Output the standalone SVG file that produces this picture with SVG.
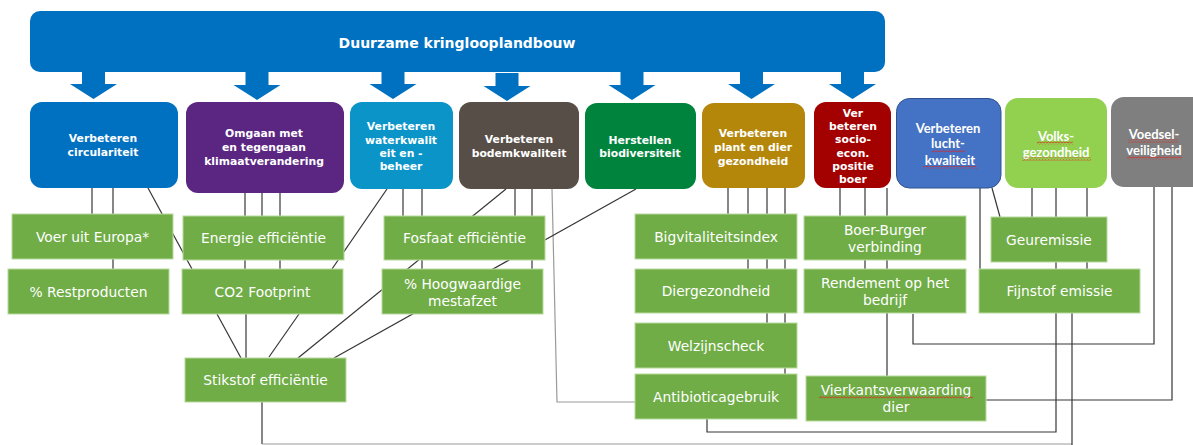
<svg xmlns="http://www.w3.org/2000/svg" xmlns:xlink="http://www.w3.org/1999/xlink" width="1193" height="445" viewBox="0 0 1193 445">
  <style>
    .cat { stroke: none; }
    .goal { font-family: "DejaVu Sans", Verdana, sans-serif; font-weight: bold; font-size: 10.8px; fill: #ffffff; text-anchor: middle; dominant-baseline: central; }
    .goal2 { font-family: Lato, "Liberation Sans", sans-serif; font-weight: bold; font-size: 13px; fill: #ffffff; text-anchor: middle; dominant-baseline: central; }
    .ind { fill: #70AD47; stroke: #B7DA9C; stroke-width: 1; }
    .indt { font-family: "DejaVu Sans", Verdana, sans-serif; font-size: 13.8px; fill: #ffffff; text-anchor: middle; dominant-baseline: central; }
    .ln { fill: none; stroke: #363636; stroke-width: 1.2; }
    .lnl { fill: none; stroke: #9a9a9a; stroke-width: 1.2; }
    .arrow { fill: #0070C0; }
  </style>
  <defs>
    <path id="arrow" d="M-11.5,0 V13 H-23.5 L0,28 L23.5,13 H11.5 V0 Z"/>
    <pattern id="squiggle" width="3" height="3" patternUnits="userSpaceOnUse">
      <path d="M0,2.4 L1.5,0.6 L3,2.4" fill="none" stroke="#E0241B" stroke-width="0.8"/>
    </pattern>
  </defs>

  <rect width="1193" height="445" fill="#ffffff"/>

  <!-- top banner with arrows to each goal -->
  <g id="banner">
    <rect x="30" y="11" width="855" height="61" rx="10" fill="#0070C0"/>
    <text x="457" y="43" font-family="DejaVu Sans, Verdana, sans-serif" font-weight="bold" font-size="14" fill="#ffffff" text-anchor="middle" dominant-baseline="central">Duurzame kringlooplandbouw</text>
    <g class="arrow">
      <use xlink:href="#arrow" x="93.5" y="71"/>
      <use xlink:href="#arrow" x="257" y="72"/>
      <use xlink:href="#arrow" x="393" y="71"/>
      <use xlink:href="#arrow" x="507" y="73"/>
      <use xlink:href="#arrow" x="632" y="72"/>
      <use xlink:href="#arrow" x="751.5" y="71"/>
      <use xlink:href="#arrow" x="852.5" y="71"/>
    </g>
  </g>

  <!-- connectors between goals and indicators -->
  <g id="connectors">
    <path class="ln" d="M92,188 V214"/>
    <path class="ln" d="M113,188 V269"/>
    <path class="ln" d="M148,188 L192,269"/>
    <path class="ln" d="M245,193 V269"/>
    <path class="ln" d="M262,193 V216"/>
    <path class="ln" d="M280,193 V269"/>
    <path class="ln" d="M387,189 L332,269"/>
    <path class="ln" d="M403,189 V216"/>
    <path class="ln" d="M422,189 V269"/>
    <path class="ln" d="M506,189 L298,358"/>
    <path class="ln" d="M515,189 V216"/>
    <path class="ln" d="M532,189 V269"/>
    <path class="lnl" d="M552,189 L557,402 H635"/>
    <path class="ln" d="M636,189 L334,358"/>
    <path class="ln" d="M217,314 L241,358"/>
    <path class="ln" d="M246,314 V358"/>
    <path class="ln" d="M299,314 L269,357"/>
    <path class="ln" d="M262,402 V444"/>
    <path class="lnl" d="M262,444 H1072"/>
    <path class="ln" d="M1072,313 V445"/>
    <path class="ln" d="M728,188 V214"/>
    <path class="ln" d="M748,188 V269"/>
    <path class="ln" d="M767,188 V323"/>
    <path class="ln" d="M785,188 V374"/>
    <path class="ln" d="M707,419 V432 H1056 V313"/>
    <path class="ln" d="M840,188 V216"/>
    <path class="ln" d="M865,188 V269"/>
    <path class="ln" d="M887,188 V376"/>
    <path class="ln" d="M980,188 V269"/>
    <path class="ln" d="M992,188 L1000,217"/>
    <path class="ln" d="M1032,188 V217"/>
    <path class="ln" d="M1056,188 V269"/>
    <path class="ln" d="M1087,188 V269"/>
    <path class="ln" d="M1154,187 V344 H913 V314"/>
    <path class="ln" d="M1172,187 V400 H986"/>
  </g>

  <!-- goals -->
  <g id="goal-circulariteit">
    <rect class="cat" x="30" y="102" width="148" height="86" rx="12" fill="#0070C0"/>
    <text class="goal" x="103" y="138">Verbeteren</text>
    <text class="goal" x="103" y="152">circulariteit</text>
  </g>
  <g id="goal-klimaat">
    <rect class="cat" x="186" y="102" width="158" height="91" rx="12" fill="#5B2582"/>
    <text class="goal" x="264" y="133">Omgaan met</text>
    <text class="goal" x="264" y="147">en tegengaan</text>
    <text class="goal" x="264" y="161.5">klimaatverandering</text>
  </g>
  <g id="goal-water">
    <rect class="cat" x="350" y="102" width="103" height="87" rx="12" fill="#0A94C8"/>
    <text class="goal" x="401" y="126.5">Verbeteren</text>
    <text class="goal" x="401" y="140">waterkwalit</text>
    <text class="goal" x="401" y="153">eit en -</text>
    <text class="goal" x="401" y="166">beheer</text>
  </g>
  <g id="goal-bodem">
    <rect class="cat" x="459" y="102" width="120" height="87" rx="12" fill="#574E47"/>
    <text class="goal" x="519" y="139">Verbeteren</text>
    <text class="goal" x="519" y="153">bodemkwaliteit</text>
  </g>
  <g id="goal-biodiversiteit">
    <rect class="cat" x="585" y="103" width="111" height="86" rx="12" fill="#00843D"/>
    <text class="goal" x="640" y="140">Herstellen</text>
    <text class="goal" x="640" y="153.5">biodiversiteit</text>
  </g>
  <g id="goal-gezondheid">
    <rect class="cat" x="702" y="103" width="103" height="85" rx="12" fill="#B4870A"/>
    <text class="goal" x="753" y="133">Verbeteren</text>
    <text class="goal" x="753" y="147">plant en dier</text>
    <text class="goal" x="753" y="161">gezondheid</text>
  </g>
  <g id="goal-socio-econ">
    <rect class="cat" x="814" y="102" width="77" height="86" rx="12" fill="#A30000"/>
    <text class="goal" x="853" y="113">Ver</text>
    <text class="goal" x="853" y="126">beteren</text>
    <text class="goal" x="853" y="139.5">socio-</text>
    <text class="goal" x="853" y="153">econ.</text>
    <text class="goal" x="853" y="166">positie</text>
    <text class="goal" x="853" y="179">boer</text>
  </g>
  <g id="goal-lucht">
    <rect x="896.5" y="98.5" width="104.5" height="89.5" rx="13" fill="#4472C4" stroke="#2F528F" stroke-width="1"/>
    <text class="goal2" x="948" y="128">Verbeteren</text>
    <text class="goal2" x="948" y="143">lucht-</text>
    <text class="goal2" x="950" y="160">kwaliteit</text>
    <rect x="932" y="149.5" width="33" height="3" fill="url(#squiggle)"/>
    <rect x="923" y="166" width="54" height="3" fill="url(#squiggle)"/>
  </g>
  <g id="goal-volksgezondheid">
    <rect x="1005" y="98" width="102" height="90" rx="13" fill="#92D050"/>
    <text class="goal2" x="1056" y="136">Volks-</text>
    <text class="goal2" x="1056" y="152">gezondheid</text>
    <rect x="1037" y="141.5" width="36" height="3" fill="url(#squiggle)"/>
    <rect x="1022" y="157.5" width="69" height="3" fill="url(#squiggle)"/>
  </g>
  <g id="goal-voedselveiligheid">
    <rect x="1111" y="97" width="100" height="90" rx="13" fill="#7F7F7F"/>
    <text class="goal2" x="1154" y="134">Voedsel-</text>
    <text class="goal2" x="1154" y="150">veiligheid</text>
    <rect x="1128" y="139.5" width="50" height="3" fill="url(#squiggle)"/>
    <rect x="1127" y="156.5" width="55" height="3" fill="url(#squiggle)"/>
  </g>

  <!-- indicators -->
  <g id="ind-voer">
    <rect class="ind" x="12" y="214" width="161" height="45"/>
    <text class="indt" x="92.5" y="237">Voer uit Europa*</text>
  </g>
  <g id="ind-restproducten">
    <rect class="ind" x="8" y="269" width="161" height="45"/>
    <text class="indt" x="88.5" y="292">% Restproducten</text>
  </g>
  <g id="ind-energie">
    <rect class="ind" x="183" y="216" width="161" height="44"/>
    <text class="indt" x="263.5" y="238">Energie efficiëntie</text>
  </g>
  <g id="ind-co2">
    <rect class="ind" x="182" y="269" width="161" height="45"/>
    <text class="indt" x="262.5" y="291.5">CO2 Footprint</text>
  </g>
  <g id="ind-stikstof">
    <rect class="ind" x="185" y="358" width="161" height="44"/>
    <text class="indt" x="265.5" y="380">Stikstof efficiëntie</text>
  </g>
  <g id="ind-fosfaat">
    <rect class="ind" x="384" y="216" width="161" height="44"/>
    <text class="indt" x="464.5" y="238">Fosfaat efficiëntie</text>
  </g>
  <g id="ind-mestafzet">
    <rect class="ind" x="382" y="269" width="161" height="45"/>
    <text class="indt" x="462.5" y="284">% Hoogwaardige</text>
    <text class="indt" x="462.5" y="301">mestafzet</text>
  </g>
  <g id="ind-bigvitaliteit">
    <rect class="ind" x="635" y="214" width="162" height="45"/>
    <text class="indt" x="716" y="237">Bigvitaliteitsindex</text>
  </g>
  <g id="ind-diergezondheid">
    <rect class="ind" x="635" y="269" width="162" height="44"/>
    <text class="indt" x="716" y="291">Diergezondheid</text>
  </g>
  <g id="ind-welzijn">
    <rect class="ind" x="635" y="323" width="162" height="45"/>
    <text class="indt" x="716" y="346">Welzijnscheck</text>
  </g>
  <g id="ind-antibiotica">
    <rect class="ind" x="635" y="374" width="162" height="45"/>
    <text class="indt" x="716" y="396.5">Antibioticagebruik</text>
  </g>
  <g id="ind-boerburger">
    <rect class="ind" x="804" y="216" width="162" height="44"/>
    <text class="indt" x="885" y="230">Boer-Burger</text>
    <text class="indt" x="885" y="247">verbinding</text>
  </g>
  <g id="ind-rendement">
    <rect class="ind" x="804" y="269" width="162" height="44"/>
    <text class="indt" x="885" y="283">Rendement op het</text>
    <text class="indt" x="885" y="299.5">bedrijf</text>
  </g>
  <g id="ind-vierkant">
    <rect class="ind" x="806" y="376" width="180" height="45"/>
    <text class="indt" x="896" y="390">Vierkantsverwaarding</text>
    <text class="indt" x="896" y="407">dier</text>
    <rect x="819" y="396" width="154" height="3" fill="url(#squiggle)"/>
  </g>
  <g id="ind-geur">
    <rect class="ind" x="991" y="217" width="116" height="45"/>
    <text class="indt" x="1049" y="240">Geuremissie</text>
  </g>
  <g id="ind-fijnstof">
    <rect class="ind" x="979" y="269" width="161" height="44"/>
    <text class="indt" x="1059.5" y="291">Fijnstof emissie</text>
  </g>
</svg>
